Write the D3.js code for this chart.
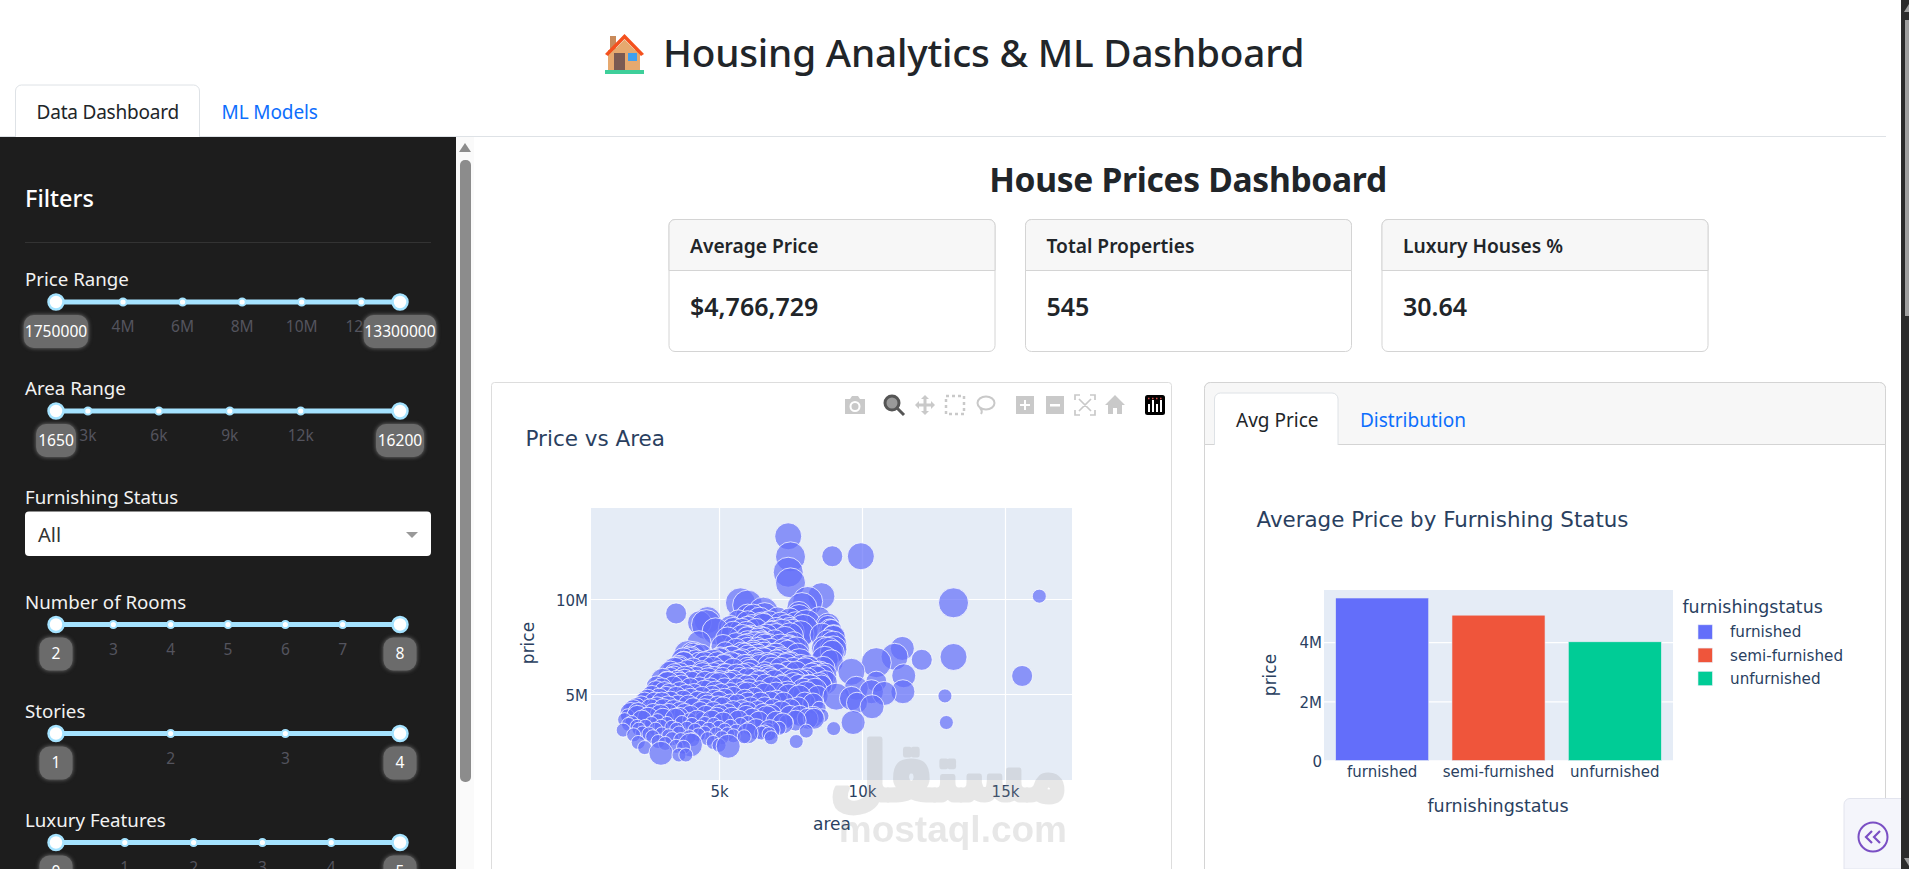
<!DOCTYPE html>
<html>
<head>
<meta charset="utf-8">
<title>Housing Analytics & ML Dashboard</title>
<script src="https://cdn.jsdelivr.net/npm/d3@7"></script>
<style>
html,body{margin:0;padding:0;background:#fff;overflow:hidden}
svg{display:block}
text{font-family:"Noto Sans",sans-serif}
.plotly text{font-family:"DejaVu Sans",sans-serif;fill:#2a3f5f}
</style>
</head>
<body>
<script>
// bar chart values
var furnishing = ["furnished","semi-furnished","unfurnished"];
var avgPrice = [5.49,4.91,4.01];//millions
var barColors = ["#636efa","#ef553b","#00cc96"];
var barTicks = [0,2,4];
var barTickLabels = ["0","2M","4M"];

// kpi cards
var kpiTitles = ["Average Price","Total Properties","Luxury Houses %"];
var kpiValues = ["$4,766,729","545","30.64"];

// scatter ticks
var areaTicks = [5000,10000,15000];
var areaTickLabels = ["5k","10k","15k"];
var priceTicks = [5,10];
var priceTickLabels = ["5M","10M"];

// scatter values: area, price (millions), bubble size
var scatterArea = [
7420,8960,9960,7500,7420,7500,8580,16200,8100,5750,
13200,6000,6550,3500,7800,6000,6600,8500,4600,6420,
4320,7155,8050,4560,8800,6540,6000,8875,7950,5500,
7475,7000,4880,5960,6840,7000,7482,9000,6000,6000,
6550,6360,6480,6000,6000,6540,6600,4300,7440,7440,
9000,7700,6000,6500,8800,5140,7250,3760,8960,6200,
3900,3750,4000,4100,3600,4200,3450,3300,4500,4800,
5020,5190,5420,5580,5810,6010,6180,6410,6580,6790,
7020,7190,7410,7590,7810,8010,8210,8390,8610,5910,
2820,3030,3210,3420,3610,3820,4020,4210,4430,4620,
4830,5010,5180,5390,5610,5790,6030,6190,6390,6620,
6790,7010,7220,7380,7610,7790,8020,8190,8510,8720,
1650,1700,1800,1836,1905,1950,2000,2015,2100,2135,
2145,2175,2175,2200,2275,2300,2325,2398,2400,2430,
2500,2520,2550,2610,2640,2650,2680,2700,2747,2787,
2800,2835,2850,2870,2910,2953,2970,2976,3000,3000,
3000,3040,3060,3090,3120,3150,3180,3185,3210,3240,
3240,3264,3300,3300,3350,3360,3400,3420,3450,3480,
3500,3512,3520,3540,3570,3600,3600,3600,3600,3630,
3640,3650,3660,3680,3700,3745,3760,3780,3800,3800,
3840,3850,3880,3900,3930,3960,3968,3990,4000,4000,
4000,4000,4040,4050,4080,4095,4100,4120,4130,4160,
4200,4240,4260,4280,4300,4320,4340,4350,4360,4400,
4400,4410,4500,4500,4500,4500,4500,4510,4520,4540,
4600,4600,4600,4640,4650,4700,4750,4760,4785,4800,
4800,4800,4815,4820,4840,4880,4900,4920,4950,4960,
5000,5000,5000,5000,5000,5020,5040,5076,5100,5120,
5136,5150,5170,5200,5200,5200,5220,5250,5300,5300,
5320,5360,5400,5400,5400,5400,5450,5460,5500,5500,
5500,5500,5500,5600,5600,5600,5640,5680,5700,5720,
5750,5800,5800,5830,5850,5880,5900,5900,5950,5960,
6000,6000,6000,6000,6000,6000,6000,6020,6050,6060,
6100,6100,6160,6200,6200,6240,6300,6300,6320,6350,
6360,6400,6420,6420,6450,6480,6500,6500,6540,6600,
6600,6600,6600,6615,6660,6670,6700,6720,6750,6770,
6800,6800,6825,6830,6840,6850,6900,6930,6950,7000,
7000,7000,7020,7085,7100,7160,7180,7200,7200,7231,
7260,7320,7350,7350,7400,7420,7440,7482,7500,7500,
7600,7680,7700,7700,7770,7800,7800,7830,7860,7950,
8000,8050,8050,8080,8100,8100,8150,8250,8290,8290,
8320,8360,8400,8450,8500,8520,8580,8600,8640,8700,
10500,11410,11140,12090,11460,11430,10780,10500,10330,9800,
9630,9100,9630,9825,10350,9690,9010,13200,15600,12900,
12950,8810,8930,9010,8930,9000,8800,8650,8700,8600,
5300,5400,5500,5600,5680,5800,5820,5900,6000,6100,
6150,6200,6250,6300,6350,6420,6500,6540,6600,6660,
6720,6750,6800,6900,6950,7000,7050,7150,7200,7300,
7350,7400,7480,7560,7600,7680,7750,7800,7850,7900
];
var scatterPrice = [
13.3,12.25,12.25,12.22,11.41,10.85,10.15,10.15,9.87,9.8,
9.8,9.68,9.31,9.24,9.24,9.1,9.1,8.96,8.89,8.86,
8.75,8.68,8.65,8.65,8.58,8.54,8.46,8.4,8.4,8.4,
8.4,8.4,8.3,8.19,8.12,8.08,8.04,7.98,7.96,7.91,
7.88,7.84,7.7,7.7,7.56,7.56,7.53,7.7,7.49,7.35,
7.35,7.3,7.35,7.25,7.2,7.5,7.2,6.6,7.2,7.1,
7.1,6.8,6.9,7.05,6.4,6.7,6.3,6.1,6.6,6.65,
6.8,6.5,6.9,6.6,6.75,6.3,6.9,6.55,6.8,6.4,
6.7,6.85,6.5,6.3,6.6,6.2,6.35,6,5.9,7.05,
5.4,5.72,5.55,5.92,5.6,5.83,5.95,5.7,6.02,5.75,
5.9,5.6,6.05,5.7,5.95,5.5,6.1,5.8,5.6,6,
5.75,5.9,5.5,5.8,5.6,5.4,5.7,5.3,5.5,5.6,
3.1,3.65,3.85,3.4,4.0,3.5,4.15,2.85,4.25,3.3,
3.85,2.45,4.0,3.15,4.35,3.6,2.95,4.55,2.18,3.3,
4.7,3.75,2.9,4.2,3.45,4.9,2.75,3.95,4.55,3.15,
5.15,4.3,3.6,2.5,4.75,3.9,1.88,3.3,5.3,4.55,
2.9,3.7,4.2,5.1,2.4,4.85,3.45,5.65,4.35,2.8,
3.95,5.0,4.6,5.85,3.25,2.65,5.4,4.15,6.05,3.7,
2.25,4.85,3.15,5.7,4.4,1.79,2.95,3.75,6.4,5.1,
6.1,4.05,2.6,5.45,3.5,4.65,2.2,6.7,3.95,5.75,
1.79,4.95,3.2,6.25,4.4,2.75,3.65,5.3,2.32,6.9,
3.85,4.75,5.65,3.4,2.6,6.35,4.25,7.05,5.0,3.1,
5.9,3.6,4.6,2.85,6.65,5.35,4.05,3.25,7.0,4.85,
6.2,3.7,2.95,3.45,4.2,5.1,6.45,5.65,4.55,3.85,
2.65,4.4,5.95,3.15,6.75,5.3,3.6,4.9,6.35,2.45,
4.05,5.6,3.4,6.1,4.7,5.05,2.9,3.75,6.6,4.35,
2.3,3.25,4.6,5.5,6.2,3.9,6.85,5.0,2.7,5.85,
4.3,3.5,6.45,3.1,5.3,4.75,7.2,6.05,2.9,3.95,
2.25,5.6,3.3,4.45,5.05,6.6,3.75,6.9,2.8,4.1,
4.85,5.7,6.25,3.05,5.3,7.3,4.45,3.6,6.7,5.85,
3.4,4.15,7.1,5.1,6.05,2.75,4.7,6.45,3.85,5.45,
2.93,3.5,4.05,4.55,5.0,5.75,6.55,6.95,3.2,5.25,
4.3,6.2,3.7,5.5,7.2,4.8,3.15,6.7,5.9,4.1,
7.0,3.55,5.15,6.45,4.55,2.95,5.7,6.85,3.95,3.0,
4.3,4.95,6.15,5.5,3.75,6.55,3.1,5.85,2.9,3.1,
4.6,6.9,2.7,3.9,5.3,6.3,4.2,7.05,5.65,3.55,
5.0,6.55,4.65,5.95,3.2,6.3,4.0,5.35,6.75,3.45,
4.55,5.75,3.55,6.5,5.05,6.1,4.9,3.85,4.2,6.6,
5.5,3.6,2.5,6.1,4.3,4.85,5.7,3.85,6.45,5.2,
4.55,3.05,4.95,5.75,3.7,6.3,5.4,6.0,3.8,4.5,
3.7,5.2,5.85,4.9,4.25,6.1,5.45,3.85,6.35,6.0,
6.65,7.4,6.96,6.8,5.96,5.12,5.03,5.65,5.12,5.3,
6.17,4.86,4.77,4.54,4.33,3.5,3.18,6.95,5.95,4.9,
3.5,8.63,8.37,8.02,6.7,7.6,7.75,7.4,6.8,8.1,
7.9,8.5,8.2,7.6,8.8,8.35,7.95,7.5,8.75,8.0,
8.55,9.1,7.65,8.35,7.35,7.95,8.6,7.6,7.1,8.05,
7.55,8.75,7.3,8.25,7.75,7.05,8.95,7.45,8.15,7.85,
8.55,7.2,8.9,8.3,7.65,8.7,7.05,9.0,8.15,9.55
];
var scatterSize = [
4,2,4,5,5,5,4,1,5,5,
5,5,5,2,3,3,4,3,4,4,
3,3,5,5,2,4,3,2,5,3,
3,3,4,3,4,3,4,3,3,3,
3,3,3,3,3,4,3,3,3,4,
4,4,3,3,5,3,4,3,3,3,
4,3,3,4,3,3,3,3,3,4,
3,3,3,2,3,3,2,3,3,4,
3,3,4,3,5,4,3,4,3,3,
2,3,3,2,2,3,2,2,3,3,
2,3,2,2,3,2,2,2,3,2,
3,4,2,2,4,3,2,4,3,3,
1,1,1,1,2,1,2,1,2,1,
2,1,2,1,2,2,1,2,1,1,
2,2,1,2,1,2,1,2,2,1,
2,2,1,1,2,2,3,1,2,2,
1,2,2,2,1,2,1,2,2,1,
2,2,2,2,1,1,2,2,2,2,
1,2,1,2,2,1,1,2,2,2,
2,2,1,2,1,2,1,2,2,2,
1,2,1,2,2,1,1,2,3,2,
2,2,2,1,1,2,2,3,2,1,
2,2,2,1,2,2,2,1,3,2,
2,1,1,1,2,3,2,2,2,2,
1,2,2,1,2,2,2,2,3,1,
2,2,1,2,2,3,1,2,3,2,
1,1,2,3,2,2,3,2,1,2,
2,2,3,1,2,2,2,2,1,2,
3,2,1,2,2,3,2,3,1,2,
2,2,3,1,2,3,2,2,3,2,
1,2,3,2,2,1,2,3,2,2,
2,1,2,2,3,3,2,3,1,2,
2,3,2,2,3,2,2,3,2,2,
3,2,2,3,2,1,2,3,2,1,
2,3,2,2,3,3,1,3,1,2,
2,3,1,2,3,3,2,3,3,2,
3,3,2,3,1,3,3,3,3,2,
2,3,1,3,3,3,3,2,2,3,
3,2,1,3,2,3,3,2,3,3,
2,1,4,3,2,4,3,3,2,2,
2,3,3,2,1,3,2,1,3,3,
5,3,4,2,3,3,3,2,3,3,
4,4,3,2,3,3,1,4,2,1,
1,3,2,3,3,4,3,3,4,3,
3,3,3,3,3,3,4,3,3,3,
3,3,3,3,3,3,4,3,3,3,
3,3,3,3,3,3,3,4,5,4,
3,3,3,3,3,3,3,4,4,5
];

// sidebar sliders
var priceRangeTicks = [4,6,8,10,12];
var priceRangeLabels = ["4M","6M","8M","10M","12M"];
var areaRangeTicks = [3000,6000,9000,12000];
var areaRangeLabels = ["3k","6k","9k","12k"];
var roomTicks = [3,4,5,6,7];
var storyTicks = [2,3];
var luxuryTicks = [1,2,3,4];

var W = 1909, H = 869;
var blue = "#0d6efd", dark = "#212529", line = "#dee2e6";

var svg = d3.select("body").append("svg").attr("width",W).attr("height",H);

function txt(g,x,y,s,size,color,weight,anchor,spacing){
    return g.append("text")
        .attr("x",x).attr("y",y)
        .attr("dy","0.35em")
        .attr("font-size",size)
        .attr("fill",color)
        .attr("font-weight",weight||400)
        .attr("text-anchor",anchor||"start")
        .attr("letter-spacing",spacing||0)
        .text(s);
}

/* page header */
txt(svg,663,53.5,"Housing Analytics & ML Dashboard",38.7,dark,500,"start",-0.2);

// house icon
var house = svg.append("g");
house.append("rect").attr("x",610).attr("y",36).attr("width",6).attr("height",14).attr("fill","#c98a5a");
house.append("rect").attr("x",608).attr("y",50).attr("width",32).attr("height",21).attr("fill","#e6a96f");
house.append("path").attr("d","M605 54L624.5 34L644 54L641 56L624.5 39L608 56Z").attr("fill","#f4511e");
house.append("path").attr("d","M609 55L624.5 39.5L640 55Z").attr("fill","#e6a96f");
house.append("rect").attr("x",614).attr("y",53).attr("width",11).attr("height",18).attr("fill","#7a5a52");
house.append("rect").attr("x",628).attr("y",53).attr("width",9).attr("height",8).attr("fill","#3fa0f0");
house.append("rect").attr("x",605).attr("y",70).attr("width",39).attr("height",4).attr("fill","#3ecf9a");

/* top tabs */
svg.append("line").attr("x1",0).attr("x2",1886).attr("y1",136.5).attr("y2",136.5).attr("stroke",line);
svg.append("path").attr("d","M15.5 137V91a6 6 0 0 1 6-6H193.5a6 6 0 0 1 6 6V137").attr("fill","#fff").attr("stroke",line);
txt(svg,36.5,112,"Data Dashboard",19,dark,400,"start",-0.2);
txt(svg,221.5,112,"ML Models",19,blue,400,"start",-0.1);

/* sidebar */
var side = svg.append("g");
side.append("rect").attr("x",0).attr("y",137).attr("width",456).attr("height",H-137).attr("fill","#1d1d1d");
txt(side,25,199,"Filters",23.5,"#fff",500);
side.append("line").attr("x1",25).attr("x2",431).attr("y1",242.5).attr("y2",242.5).attr("stroke","#333");

// inner scrollbar
side.append("rect").attr("x",456).attr("y",137).attr("width",18).attr("height",H-137).attr("fill","#fafafa");
side.append("path").attr("d","M465 143L471 152H459Z").attr("fill","#8c8c8c");
side.append("rect").attr("x",460).attr("y",160).attr("width",11).attr("height",622).attr("rx",5).attr("fill","#8c8c8c");

function slider(y,min,max,ticks,labels,title,lowTip,highTip){
    var x = d3.scaleLinear().domain([min,max]).range([56,400]);
    var g = side.append("g");
    txt(g,25,y-22.5,title,18.7,"#f2f2f2");
    g.append("line").attr("x1",x(min)).attr("x2",x(max)).attr("y1",y).attr("y2",y)
        .attr("stroke","#a5e3ff").attr("stroke-width",5);
    g.selectAll(".tk").data(ticks).enter().append("circle")
        .attr("cx",function(d){return x(d)}).attr("cy",y).attr("r",3.6)
        .attr("fill","#fff").attr("stroke","#a5e3ff").attr("stroke-width",2);
    g.selectAll(".tl").data(ticks).enter().append("text")
        .attr("x",function(d){return x(d)}).attr("y",y+25).attr("dy","0.35em")
        .attr("text-anchor","middle").attr("font-size",15.5).attr("fill","#54545e")
        .text(function(d,i){return labels[i]});
    [min,max].forEach(function(v){
        g.append("circle").attr("cx",x(v)).attr("cy",y).attr("r",7.5)
            .attr("fill","#fff").attr("stroke","#a5e3ff").attr("stroke-width",2.5);
    });
    [[min,lowTip],[max,highTip]].forEach(function(t){
        var w = t[1].length*8.2+7;
        if(w<33) w=33;
        g.append("rect").attr("x",x(t[0])-w/2).attr("y",y+13).attr("width",w).attr("height",33).attr("rx",10)
            .attr("fill","#6b6b6b").style("filter","drop-shadow(0 0 2px #777)");
        txt(g,x(t[0]),y+29.5,t[1],15.6,"#fff",400,"middle");
    });
}
slider(302,1.75,13.3,priceRangeTicks,priceRangeLabels,"Price Range","1750000","13300000");
slider(411,1650,16200,areaRangeTicks,areaRangeLabels,"Area Range","1650","16200");
slider(624.5,2,8,roomTicks,roomTicks,"Number of Rooms","2","8");
slider(733.5,1,4,storyTicks,storyTicks,"Stories","1","4");
slider(842.5,0,5,luxuryTicks,luxuryTicks,"Luxury Features","0","5");

txt(side,25,497.5,"Furnishing Status",18.7,"#f2f2f2");
side.append("rect").attr("x",25).attr("y",511.5).attr("width",406).attr("height",44.5).attr("rx",4).attr("fill","#fff");
txt(side,38,534.5,"All",20,"#333");
side.append("path").attr("d","M406 532H418L412 538Z").attr("fill","#999");

/* main heading and kpi cards */
txt(svg,1188,180,"House Prices Dashboard",33.6,dark,700,"middle",-0.3);

var cardX = d3.scaleBand().domain(kpiTitles).range([669,1708]).paddingInner(0.0855);
kpiTitles.forEach(function(t,i){
    var g = svg.append("g").attr("transform","translate("+cardX(t)+",219.5)");
    var w = cardX.bandwidth();
    g.append("rect").attr("width",w).attr("height",132).attr("rx",6).attr("fill","#fff").attr("stroke","#d4d4d4");
    g.append("path").attr("d","M0 51V6a6 6 0 0 1 6-6H"+(w-6)+"a6 6 0 0 1 6 6V51Z").attr("fill","#f7f7f7").attr("stroke","#d4d4d4");
    txt(g,21,27,t,19.2,dark,600);
    txt(g,21,88,kpiValues[i],25,dark,600);
});

/* scatter card */
svg.append("rect").attr("x",491.5).attr("y",382.5).attr("width",680).attr("height",520).attr("rx",3)
    .attr("fill","#fff").attr("stroke","#ddd");

var plotA = svg.append("g").attr("class","plotly");
var x1 = d3.scaleLinear().domain([524,17343]).range([591,1072]);
var y1 = d3.scaleLinear().domain([0.474,14.79]).range([780,508]);
var r1 = d3.scaleLinear().domain([1,2,3,4,5]).range([7,10.5,12,13.5,15]);
plotA.append("rect").attr("x",591).attr("y",508).attr("width",481).attr("height",272).attr("fill","#e5ecf6");

function grid(g,axis){
    g.call(axis);
    g.select(".domain").remove();
    g.selectAll("line").attr("stroke","#fff").attr("stroke-width",1.2);
    g.selectAll("text").remove();
}
grid(plotA.append("g").attr("transform","translate(0,780)"),d3.axisBottom(x1).tickValues(areaTicks).tickSize(-272));
grid(plotA.append("g").attr("transform","translate(591,0)"),d3.axisLeft(y1).tickValues(priceTicks).tickSize(-481));

// cheaper houses paint over dearer ones, as in the reference
var scatterRows = d3.zip(scatterArea,scatterPrice,scatterSize).sort(function(a,b){return b[1]-a[1]});
plotA.selectAll("circle.pt").data(scatterRows).enter().append("circle")
    .attr("class","pt")
    .attr("cx",function(d){return x1(d[0])})
    .attr("cy",function(d){return y1(d[1])})
    .attr("r",function(d){return r1(d[2])})
    .attr("fill","#636efa").attr("fill-opacity",0.7)
    .attr("stroke","#fff").attr("stroke-opacity",0.75).attr("stroke-width",1);

function labels(g,axis){
    g.call(axis);
    g.select(".domain").remove();
    g.selectAll("line").remove();
    g.selectAll("text").attr("font-size",15);
}
labels(plotA.append("g").attr("transform","translate(0,780)"),
    d3.axisBottom(x1).tickValues(areaTicks).tickSize(0).tickPadding(6).tickFormat(function(d,i){return areaTickLabels[i]}));
labels(plotA.append("g").attr("transform","translate(591,1.5)"),
    d3.axisLeft(y1).tickValues(priceTicks).tickSize(0).tickPadding(3).tickFormat(function(d,i){return priceTickLabels[i]}));

txt(plotA,525.5,438,"Price vs Area",21.5,"#2a3f5f");
txt(plotA,832,824,"area",17,"#2a3f5f",400,"middle");
txt(plotA,0,0,"price",17,"#2a3f5f",400,"middle").attr("transform","translate(528,643) rotate(-90)");

/* modebar */
var mb = svg.append("g");
var gray = "#c9c9c9";
function at(x){return mb.append("g").attr("transform","translate("+x+",405)")}
var ic = at(855); // camera
ic.append("path").attr("d","M-10 -6H-5L-3 -9H3L5 -6H10V9H-10Z").attr("fill",gray);
ic.append("circle").attr("r",4.5).attr("cy",1.5).attr("fill","none").attr("stroke","#fff").attr("stroke-width",2);
ic = at(894); // zoom, active
ic.append("circle").attr("cx",-2).attr("cy",-2).attr("r",7).attr("fill","#999").attr("stroke","#555").attr("stroke-width",3);
ic.append("line").attr("x1",3).attr("y1",3).attr("x2",10).attr("y2",10).attr("stroke","#555").attr("stroke-width",3);
ic = at(925); // pan
ic.append("path").attr("d","M-1.5 -6H-4L0 -10L4 -6H1.5V-1.5H6V-4L10 0L6 4V1.5H1.5V6H4L0 10L-4 6H-1.5V1.5H-6V4L-10 0L-6 -4V-1.5H-1.5Z").attr("fill",gray);
ic = at(955); // box select
ic.append("rect").attr("x",-9).attr("y",-9).attr("width",18).attr("height",18).attr("fill","none").attr("stroke",gray).attr("stroke-width",2.5).attr("stroke-dasharray","3 3");
ic = at(985); // lasso
ic.append("ellipse").attr("cx",1).attr("cy",-2).attr("rx",8.5).attr("ry",6.5).attr("fill","none").attr("stroke",gray).attr("stroke-width",2);
ic.append("path").attr("d","M-5 3Q-2 6 -4 9").attr("fill","none").attr("stroke",gray).attr("stroke-width",2);
ic = at(1025); // zoom in
ic.append("rect").attr("x",-9).attr("y",-9).attr("width",18).attr("height",18).attr("fill",gray);
ic.append("path").attr("d","M-1 -5H1V-1H5V1H1V5H-1V1H-5V-1H-1Z").attr("fill","#fff");
ic = at(1055); // zoom out
ic.append("rect").attr("x",-9).attr("y",-9).attr("width",18).attr("height",18).attr("fill",gray);
ic.append("rect").attr("x",-5).attr("y",-1).attr("width",10).attr("height",2.5).attr("fill","#fff");
ic = at(1085); // autoscale
ic.append("path").attr("d","M-10 -5V-10H-5M5 -10H10V-5M10 5V10H5M-5 10H-10V5M-6 -6L6 6M6 -6L-6 6").attr("fill","none").attr("stroke",gray).attr("stroke-width",1.7);
ic = at(1115); // home
ic.append("path").attr("d","M0 -10L10 0H7V9H2V3H-2V9H-7V0H-10Z").attr("fill",gray);
ic = at(1155); // plotly logo
ic.append("rect").attr("x",-10).attr("y",-10).attr("width",20).attr("height",20).attr("rx",2.5).attr("fill","#000");
ic.append("path").attr("d","M-6 -1V7M-2 -5V7M2 -1V7M6 -5V7").attr("stroke","#fff").attr("stroke-width",2);
ic.append("path").attr("d","M-7 -6.5H7").attr("stroke","#d9534f").attr("stroke-width",1.5).attr("stroke-dasharray","1.5 2.5");

/* bar card */
svg.append("rect").attr("x",1204.5).attr("y",382.5).attr("width",681).attr("height",520).attr("rx",6)
    .attr("fill","#fff").attr("stroke","#d4d4d4");
svg.append("path").attr("d","M1204.5 444.5V388.5a6 6 0 0 1 6-6H1879.5a6 6 0 0 1 6 6V444.5Z").attr("fill","#f7f7f7").attr("stroke","#d4d4d4");
svg.append("path").attr("d","M1214.5 445V399a6 6 0 0 1 6-6H1332a6 6 0 0 1 6 6V445").attr("fill","#fff").attr("stroke",line);
txt(svg,1236,420.5,"Avg Price",19,dark);
txt(svg,1360,420.5,"Distribution",19,blue);

var plotB = svg.append("g").attr("class","plotly");
var x2 = d3.scaleBand().domain(furnishing).range([1324,1673]).paddingInner(0.2).paddingOuter(0.1);
var y2 = d3.scaleLinear().domain([0,5.76]).range([760.5,590]);
plotB.append("rect").attr("x",1324).attr("y",590).attr("width",349).attr("height",170.5).attr("fill","#e5ecf6");
grid(plotB.append("g").attr("transform","translate(1324,0)"),d3.axisLeft(y2).tickValues(barTicks).tickSize(-349));
plotB.selectAll("rect.bar").data(furnishing).enter().append("rect")
    .attr("class","bar")
    .attr("x",function(d){return x2(d)})
    .attr("width",x2.bandwidth())
    .attr("y",function(d,i){return y2(avgPrice[i])})
    .attr("height",function(d,i){return y2(0)-y2(avgPrice[i])})
    .attr("fill",function(d,i){return barColors[i]})
    .attr("stroke","#e5ecf6").attr("stroke-width",0.6);
labels(plotB.append("g").attr("transform","translate(0,760.5)"),d3.axisBottom(x2).tickSize(0).tickPadding(6));
labels(plotB.append("g").attr("transform","translate(1324,1)"),
    d3.axisLeft(y2).tickValues(barTicks).tickSize(0).tickPadding(2).tickFormat(function(d,i){return barTickLabels[i]}));
txt(plotB,1256.5,520,"Average Price by Furnishing Status",21.4,"#2a3f5f");
txt(plotB,1498,806,"furnishingstatus",17.5,"#2a3f5f",400,"middle");
txt(plotB,0,0,"price",17,"#2a3f5f",400,"middle").attr("transform","translate(1270,675) rotate(-90)");

// legend
txt(plotB,1682.5,607,"furnishingstatus",17.4,"#2a3f5f");
var legY = d3.scalePoint().domain(furnishing).range([632,678.5]);
furnishing.forEach(function(f,i){
    plotB.append("rect").attr("x",1698).attr("y",legY(f)-7.2).attr("width",14.4).attr("height",14.4)
        .attr("fill",barColors[i]).attr("stroke","#e5ecf6").attr("stroke-width",0.6);
    txt(plotB,1730,legY(f),f,15.2,"#2a3f5f");
});

/* watermark */
var wm = svg.append("g").attr("fill","#969696").attr("stroke","#969696").attr("opacity",0.22);
wm.append("text").attr("transform","translate(1067,800) scale(0.81,1)").attr("text-anchor","end")
    .attr("font-size",80).attr("font-weight",700).attr("stroke-width",5).attr("stroke-linejoin","round")
    .style("font-family","'DejaVu Sans'").text("مستقل");
wm.append("text").attr("x",1067).attr("y",842).attr("text-anchor","end")
    .attr("font-size",37).attr("font-weight",700).attr("stroke-width",0)
    .style("font-family","'Liberation Sans'").text("mostaql.com");

/* corner widget + browser scrollbar */
svg.append("path").attr("d","M1902 798.5H1850a6 6 0 0 0 -6 6V869H1902Z").attr("fill","#f4f5fb").attr("stroke","#e2e4ee");
svg.append("circle").attr("cx",1873).attr("cy",837).attr("r",14.5).attr("fill","none").attr("stroke","#7a4fc4").attr("stroke-width",2);
svg.append("path").attr("d","M1872 831L1866 837L1872 843M1880 831L1874 837L1880 843").attr("fill","none").attr("stroke","#7a4fc4").attr("stroke-width",2.2);

svg.append("rect").attr("x",1901).attr("y",0).attr("width",8).attr("height",H).attr("fill","#2b2b2b");
svg.append("path").attr("d","M1909 4V12H1904Z").attr("fill","#9f9f9f");
svg.append("rect").attr("x",1905).attr("y",20).attr("width",4).attr("height",296).attr("fill","#9f9f9f");
svg.append("path").attr("d","M1904 858H1909V866Z").attr("fill","#9f9f9f");
</script>
</body>
</html>
